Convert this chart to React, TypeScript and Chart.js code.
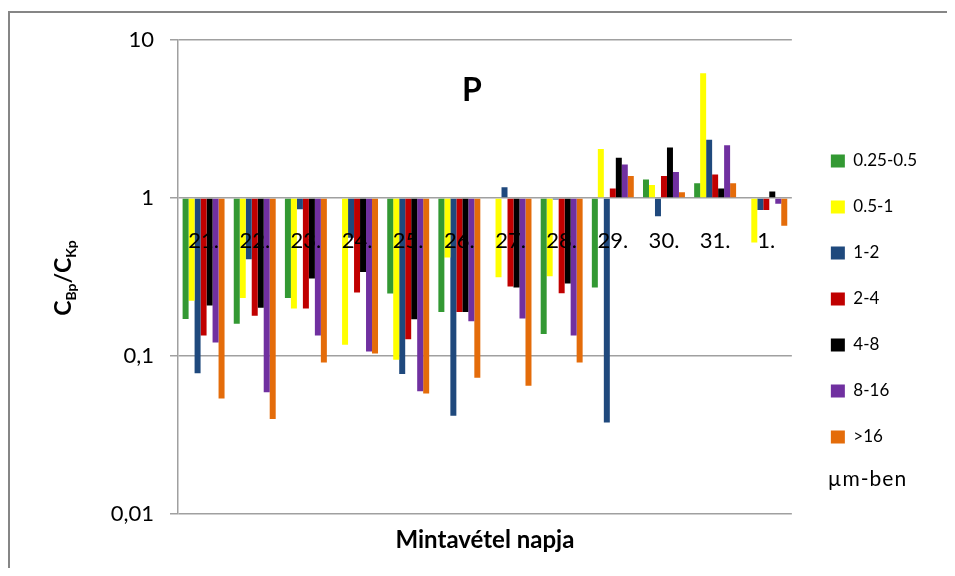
import React, { useEffect, useRef } from "react";
import { Chart, registerables } from "chart.js";

Chart.register(...registerables);

const categories = ["21.", "22.", "23.", "24.", "25.", "26.", "27.", "28.", "29.", "30.", "31.", "1."];
const seriesNames = ["0.25-0.5", "0.5-1", "1-2", "2-4", "4-8", "8-16", ">16"];
const seriesColors = ["#339933", "#FFFF00", "#1F497D", "#C00000", "#000000", "#7030A0", "#E46C0A"];

const s025_05 = [0.172, 0.16, 0.233, 1, 0.249, 0.19, 1, 0.138, 0.272, 1.31, 1.24, 1];
const s05_1 = [0.224, 0.233, 0.2, 0.118, 0.095, 0.42, 0.315, 0.32, 2.04, 1.21, 6.17, 0.524];
const s1_2 = [0.078, 0.41, 0.85, 0.56, 0.077, 0.042, 1.17, 0.98, 0.038, 0.766, 2.34, 0.84];
const s2_4 = [0.135, 0.18, 0.2, 0.253, 0.128, 0.19, 0.276, 0.25, 1.15, 1.38, 1.41, 0.84];
const s4_8 = [0.209, 0.202, 0.31, 0.34, 0.171, 0.19, 0.272, 0.288, 1.8, 2.09, 1.15, 1.1];
const s8_16 = [0.122, 0.059, 0.135, 0.107, 0.06, 0.166, 0.173, 0.135, 1.63, 1.46, 2.16, 0.92];
const s16 = [0.054, 0.04, 0.091, 0.104, 0.058, 0.073, 0.065, 0.091, 1.38, 1.09, 1.24, 0.668];

const yTickValues = [0.01, 0.1, 1, 10];
const yTickLabels = ["0,01", "0,1", "1", "10"];

const chartTitle = "P";
const xTitle = "Mintavétel napja";
const unitNote = "µm-ben";

const FONT = "Lato, 'Noto Sans', sans-serif";

const decorPlugin = {
  id: "decor",
  beforeDraw(chart: any) {
    const ctx = chart.ctx;
    ctx.save();
    ctx.strokeStyle = "#868686";
    ctx.lineWidth = 2;
    ctx.strokeRect(1, 4, 2000, 2000);
    ctx.restore();
  },
  afterDraw(chart: any) {
    const ctx = chart.ctx;
    ctx.save();
    // Chart title "P"
    ctx.fillStyle = "#000";
    ctx.font = `bold 32px ${FONT}`;
    ctx.textAlign = "center";
    ctx.textBaseline = "middle";
    ctx.fillText(chartTitle, 464, 83);

    // Y-axis title with subscripts
    const parts = [
      { t: "C", size: 23, dy: 0 },
      { t: "Bp", size: 14, dy: 5 },
      { t: "/C", size: 23, dy: 0 },
      { t: "Kp", size: 14, dy: 5 },
    ];
    let total = 0;
    for (const p of parts) {
      ctx.font = `bold ${p.size}px ${FONT}`;
      total += ctx.measureText(p.t).width;
    }
    ctx.translate(55, 270);
    ctx.rotate(-Math.PI / 2);
    ctx.textAlign = "left";
    ctx.textBaseline = "alphabetic";
    let x = -total / 2;
    for (const p of parts) {
      ctx.font = `bold ${p.size}px ${FONT}`;
      ctx.fillText(p.t, x, 8 + p.dy);
      x += ctx.measureText(p.t).width;
    }
    ctx.restore();

    // unit note below legend
    const lg = chart.legend;
    if (lg && lg.legendHitBoxes && lg.legendHitBoxes.length) {
      const hb = lg.legendHitBoxes[lg.legendHitBoxes.length - 1];
      ctx.save();
      ctx.fillStyle = "#000";
      ctx.font = `21px ${FONT}`;
      try {
        (ctx as any).letterSpacing = "1px";
      } catch (e) {}
      ctx.textAlign = "left";
      ctx.textBaseline = "middle";
      ctx.fillText(unitNote, hb.left - 3, hb.top + hb.height / 2 + 42);
      ctx.restore();
    }
  },
};

export default function App() {
  const ref = useRef<HTMLCanvasElement | null>(null);
  useEffect(() => {
    if (!ref.current) return;
    const all = [s025_05, s05_1, s1_2, s2_4, s4_8, s8_16, s16];
    const chart = new Chart(ref.current, {
      type: "bar",
      data: {
        labels: categories,
        datasets: all.map((d, i) => ({
          label: seriesNames[i],
          data: d,
          base: 1,
          backgroundColor: seriesColors[i],
          borderWidth: 0,
          barPercentage: 1,
          categoryPercentage: 0.82,
          xAxisID: "x",
          yAxisID: "y",
        })),
      },
      options: {
        animation: false,
        responsive: true,
        maintainAspectRatio: false,
        layout: { padding: { top: 32, left: 0, right: 28, bottom: 10 } },
        plugins: {
          legend: {
            position: "right",
            fullSize: true,
            align: "center",
            labels: {
              boxWidth: 14,
              boxHeight: 13,
              padding: 29,
              color: "#000",
              font: { family: FONT, size: 17 },
            },
          },
          tooltip: { enabled: false },
        },
        scales: {
          x: {
            type: "category",
            position: { y: 1 } as any,
            grid: { display: false, drawTicks: false },
            border: { display: false },
            ticks: {
              z: 1,
              padding: 30,
              color: "#000",
              font: { family: FONT, size: 22 },
              maxRotation: 0,
              autoSkip: false,
            },
          },
          x2: {
            type: "category",
            position: "bottom",
            grid: { display: false, drawTicks: false },
            border: { display: false },
            ticks: { display: false },
            title: {
              display: true,
              text: xTitle,
              color: "#000",
              font: { family: FONT, size: 24, weight: "bold" },
              padding: { top: 12, bottom: 3 },
            },
          },
          y: {
            type: "logarithmic",
            position: "left",
            min: 0.01,
            max: 10,
            afterFit: (s: any) => {
              s.width = 170;
            },
            afterBuildTicks: (s: any) => {
              s.ticks = yTickValues.map((v) => ({ value: v }));
            },
            ticks: {
              padding: 16,
              color: "#000",
              font: { family: FONT, size: 22 },
              callback: (v: any) => {
                const i = yTickValues.indexOf(Number(v));
                return i >= 0 ? yTickLabels[i] : "";
              },
            },
            grid: { color: "#a0a0a0", lineWidth: 1.5, tickLength: 8 },
            border: { display: true, color: "#a0a0a0", width: 1.5 },
          },
          ySpacer: {
            type: "linear",
            position: "right",
            display: true,
            grid: { display: false, drawTicks: false },
            border: { display: false },
            ticks: { display: false },
            afterFit: (s: any) => {
              s.width = 10;
            },
          },
        },
      },
      plugins: [decorPlugin],
    } as any);
    return () => chart.destroy();
  }, []);
  return (
    <div style={{ position: "relative", width: 947, height: 560 }}>
      <canvas ref={ref} />
    </div>
  );
}
